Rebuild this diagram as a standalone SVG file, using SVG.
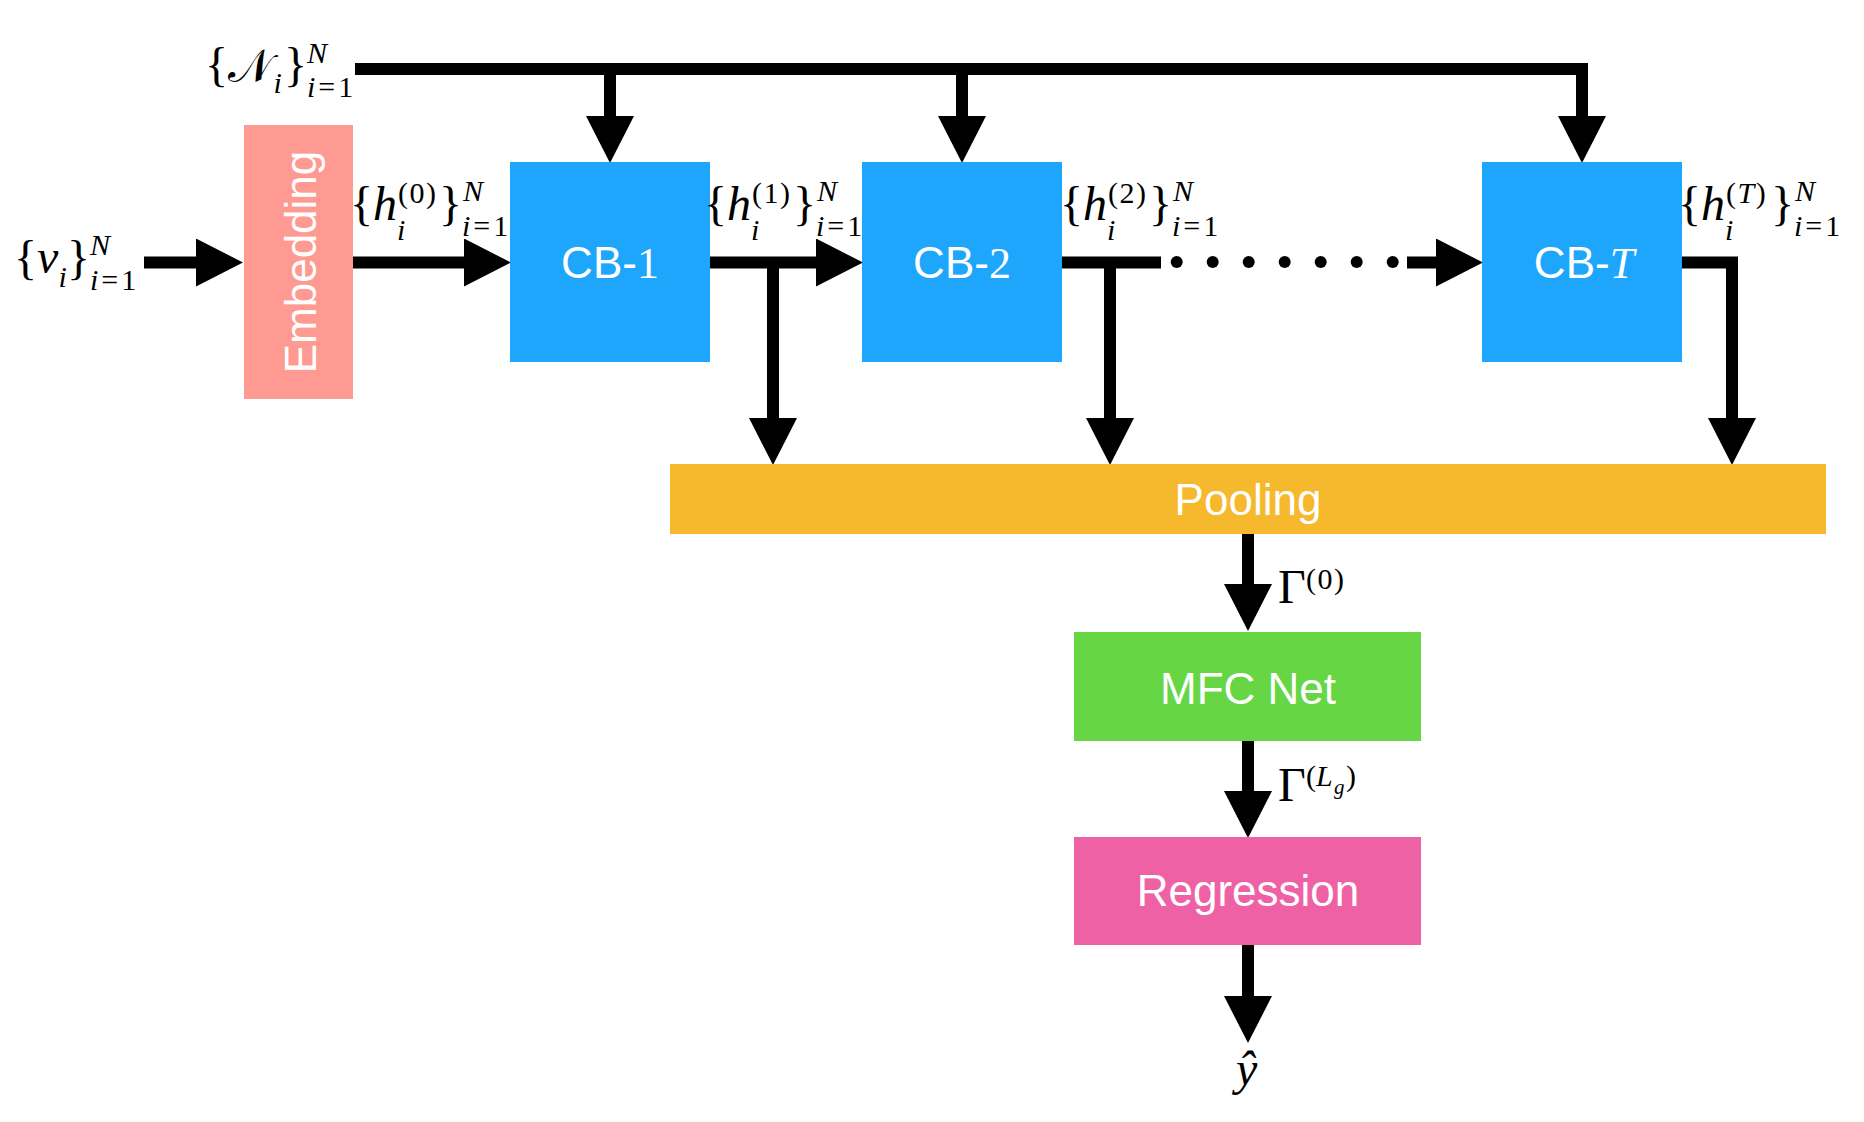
<svg xmlns="http://www.w3.org/2000/svg" width="1864" height="1122" viewBox="0 0 1864 1122">
<style>
.box-t{font-family:"Liberation Sans",Arial,sans-serif;font-size:44px;fill:#fff;text-anchor:middle}
.ser{font-family:"Liberation Serif","Times New Roman",serif}
.m{font-family:"Liberation Serif","Times New Roman",serif;font-size:48px;fill:#000}
.s{font-size:30px}
.it{font-style:italic}
.up{font-style:normal}
.eq{letter-spacing:3px}
.ln{fill:none;stroke:#000;stroke-width:12;stroke-linejoin:miter;stroke-linecap:butt}
</style>
<defs>
<marker id="ah" markerUnits="userSpaceOnUse" markerWidth="47" markerHeight="48" viewBox="0 0 47 48" refX="0" refY="24" orient="auto">
<path d="M0,0 L47,24 L0,48 Z" fill="#000"/>
</marker>
</defs>
<rect width="1864" height="1122" fill="#fff"/>

<g id="connectors">
<path class="ln" d="M355,69 H1582 V116" marker-end="url(#ah)"/>
<path class="ln" d="M610,69 V116" marker-end="url(#ah)"/>
<path class="ln" d="M962,69 V116" marker-end="url(#ah)"/>
<path class="ln" d="M144,262.5 H196" marker-end="url(#ah)"/>
<path class="ln" d="M353,262.5 H464" marker-end="url(#ah)"/>
<path class="ln" d="M710,262.5 H816" marker-end="url(#ah)"/>
<path class="ln" d="M773,262.5 V418" marker-end="url(#ah)"/>
<path class="ln" d="M1062,262.5 H1161"/>
<path class="ln" d="M1110,262.5 V418" marker-end="url(#ah)"/>
<g fill="#000">
<circle cx="1176.7" cy="262" r="6"/>
<circle cx="1212.7" cy="262" r="6"/>
<circle cx="1248.7" cy="262" r="6"/>
<circle cx="1284.7" cy="262" r="6"/>
<circle cx="1320.7" cy="262" r="6"/>
<circle cx="1356.7" cy="262" r="6"/>
<circle cx="1392.7" cy="262" r="6"/>
</g>
<path class="ln" d="M1407,262.5 H1436" marker-end="url(#ah)"/>
<path class="ln" d="M1682,262.5 H1732 V418" marker-end="url(#ah)"/>
<path class="ln" d="M1248,534 V584" marker-end="url(#ah)"/>
<path class="ln" d="M1248,741 V791" marker-end="url(#ah)"/>
<path class="ln" d="M1248,944.5 V996" marker-end="url(#ah)"/>
</g>

<g id="embedding">
<rect x="244" y="125" width="109" height="274" fill="#FF9A92"/>
<text class="box-t" font-size="45" transform="translate(316,262) rotate(-90)" x="0" y="0">Embedding</text>
</g>

<g id="cb1">
<rect x="510" y="162" width="200" height="200" fill="#1EA5FC"/>
<text class="box-t" x="610" y="278">CB-<tspan class="ser">1</tspan></text>
</g>
<g id="cb2">
<rect x="862" y="162" width="200" height="200" fill="#1EA5FC"/>
<text class="box-t" x="962" y="278">CB-<tspan class="ser">2</tspan></text>
</g>
<g id="cbT">
<rect x="1482" y="162" width="200" height="200" fill="#1EA5FC"/>
<text class="box-t" x="1584" y="278">CB-<tspan class="ser it">T</tspan></text>
</g>

<g id="pooling">
<rect x="670" y="464" width="1156" height="70" fill="#F6B82D"/>
<text class="box-t" x="1248" y="515">Pooling</text>
</g>
<g id="mfc">
<rect x="1074" y="632" width="347" height="109" fill="#66D645"/>
<text class="box-t" x="1248" y="704">MFC Net</text>
</g>
<g id="regression">
<rect x="1074" y="837" width="347" height="108" fill="#EE62A5"/>
<text class="box-t" x="1248" y="906">Regression</text>
</g>

<g id="label-N">
<text class="m"><tspan x="205" y="81">{</tspan><tspan x="228" y="82" font-family="'DejaVu Serif',serif" font-size="46">𝒩</tspan><tspan class="s it" x="273.5" y="93">i</tspan><tspan x="284" y="81">}</tspan><tspan class="s it" x="307" y="63">N</tspan><tspan class="s it eq" x="307" y="97">i<tspan class="up">=1</tspan></tspan></text>
</g>

<g id="label-v">
<text class="m"><tspan x="14" y="274">{</tspan><tspan class="it" x="37" y="273">v</tspan><tspan class="s it" x="58.5" y="287">i</tspan><tspan x="67" y="274">}</tspan><tspan class="s it" x="90" y="255">N</tspan><tspan class="s it eq" x="90" y="290">i<tspan class="up">=1</tspan></tspan></text>
</g>

<g id="label-h0">
<text class="m"><tspan x="350" y="220">{</tspan><tspan class="it" x="373" y="220">h</tspan><tspan class="s it" x="397" y="240">i</tspan><tspan class="s" x="398" y="203" letter-spacing="1.5">(0)</tspan><tspan x="439" y="220">}</tspan><tspan class="s it" x="463" y="201">N</tspan><tspan class="s it eq" x="462" y="236">i<tspan class="up">=1</tspan></tspan></text>
</g>

<g id="label-h1">
<text class="m"><tspan x="704" y="220">{</tspan><tspan class="it" x="727" y="220">h</tspan><tspan class="s it" x="751" y="240">i</tspan><tspan class="s" x="752" y="203" letter-spacing="1.5">(1)</tspan><tspan x="793" y="220">}</tspan><tspan class="s it" x="817" y="201">N</tspan><tspan class="s it eq" x="816" y="236">i<tspan class="up">=1</tspan></tspan></text>
</g>

<g id="label-h2">
<text class="m"><tspan x="1060" y="220">{</tspan><tspan class="it" x="1083" y="220">h</tspan><tspan class="s it" x="1107" y="240">i</tspan><tspan class="s" x="1108" y="203" letter-spacing="1.5">(2)</tspan><tspan x="1149" y="220">}</tspan><tspan class="s it" x="1173" y="201">N</tspan><tspan class="s it eq" x="1172" y="236">i<tspan class="up">=1</tspan></tspan></text>
</g>

<g id="label-hT">
<text class="m"><tspan x="1678" y="220">{</tspan><tspan class="it" x="1701" y="220">h</tspan><tspan class="s it" x="1725" y="240">i</tspan><tspan class="s" x="1726" y="203" letter-spacing="1.5">(<tspan class="it">T</tspan>)</tspan><tspan x="1771" y="220">}</tspan><tspan class="s it" x="1795" y="201">N</tspan><tspan class="s it eq" x="1794" y="236">i<tspan class="up">=1</tspan></tspan></text>
</g>

<g id="label-gamma0">
<text class="m"><tspan x="1278" y="603">Γ</tspan><tspan class="s" x="1306" y="589" letter-spacing="1.5">(0)</tspan></text>
</g>

<g id="label-gammaL">
<text class="m"><tspan x="1278" y="801">Γ</tspan><tspan class="s" x="1306" y="786">(</tspan><tspan class="s it" x="1316" y="786">L</tspan><tspan class="it" font-size="21" x="1334" y="794">g</tspan><tspan class="s" x="1346" y="786">)</tspan></text>
</g>

<g id="label-yhat">
<text class="m it" x="1236" y="1085">ŷ</text>
</g>
</svg>
